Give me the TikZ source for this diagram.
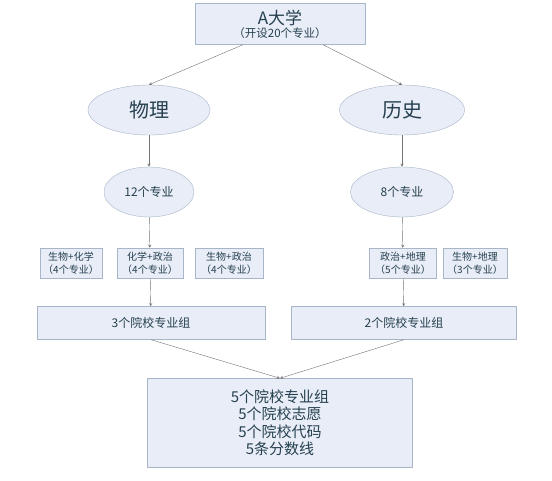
\documentclass[tikz,border=0pt]{standalone}
\usepackage{fontspec}
\setmainfont{Noto Sans CJK SC}
\usepackage{xcolor}
\usepackage{tikz}
\usetikzlibrary{shapes.geometric, arrows, positioning}
\definecolor{myfill}{rgb}{0.91, 0.93, 0.97}
\definecolor{myedge}{rgb}{0.66, 0.71, 0.78}
\definecolor{mytext}{rgb}{0.15, 0.25, 0.31}
\definecolor{myline}{rgb}{0.45, 0.45, 0.47}
\tikzstyle{oval} = [ellipse, inner sep=0pt, draw=myedge, fill=myfill, text=mytext, text centered]
\tikzstyle{subject} = [rectangle, inner sep=0pt, minimum height=30pt, draw=myedge, fill=myfill, text=mytext, align=center, font=\fontsize{10}{13}\selectfont]
\tikzstyle{group} = [rectangle, inner sep=0pt, draw=myedge, fill=myfill, text=mytext, align=center]
\tikzstyle{arrow} = [draw=myline, ->, >=stealth]

\begin{document}
\begin{tikzpicture}[x=1pt, y=-1pt]
    \fill[white] (0,0) rectangle (552,481);
    \node (univ) [group, minimum width=170pt, minimum height=41pt] at (280,24) {{\fontsize{17}{19}\selectfont A大学}\\[1pt]{\fontsize{11.5}{13}\selectfont （开设20个专业）}};
    \node (wuli) [oval, minimum width=122pt, minimum height=50pt, font=\fontsize{20}{22}\selectfont] at (149,110) {物理};
    \node (lishi) [oval, minimum width=125pt, minimum height=50pt, font=\fontsize{20}{22}\selectfont] at (402,110) {历史};
    \node (m12) [oval, minimum width=90pt, minimum height=50pt, font=\fontsize{12}{14}\selectfont] at (149,192) {12个专业};
    \node (m8) [oval, minimum width=103pt, minimum height=50pt, font=\fontsize{12}{14}\selectfont] at (402,192) {8个专业};
    % subject combinations
    \node (shw) [subject, minimum width=62pt] at (71,263) {生物+化学\\（4个专业）};
    \node (hzz) [subject, minimum width=66pt] at (150,263) {化学+政治\\（4个专业）};
    \node (swz) [subject, minimum width=68pt] at (229,263) {生物+政治\\（4个专业）};
    \node (zzd) [subject, minimum width=67pt] at (403,263) {政治+地理\\（5个专业）};
    \node (swd) [subject, minimum width=64pt] at (475,263) {生物+地理\\（3个专业）};
    \node (g3) [group, minimum width=228pt, minimum height=33pt, font=\fontsize{12}{14}\selectfont] at (151,323) {3个院校专业组};
    \node (g2) [group, minimum width=225pt, minimum height=33pt, font=\fontsize{12}{14}\selectfont] at (404,323) {2个院校专业组};
    \node (total) [group, minimum width=265pt, minimum height=89pt, font=\fontsize{15}{17.5}\selectfont] at (280,423) {5个院校专业组\\5个院校志愿\\5个院校代码\\5条分数线};
    \draw [arrow] ([xshift=-37pt]univ.south) -- (wuli.north);
    \draw [arrow] ([xshift=43pt]univ.south) -- (lishi.north);
    \draw [arrow] (wuli) -- (m12);
    \draw [arrow] (lishi) -- (m8);
    \draw [arrow] (m12) -- (hzz);
    \draw [arrow] (m8) -- (zzd);
    \draw [arrow] (hzz) -- (g3);
    \draw [arrow] (zzd) -- (g2);
    \draw [arrow] (g3.south) -- (total.north);
    \draw [arrow] (g2.south) -- (total.north);
\end{tikzpicture}
\end{document}
